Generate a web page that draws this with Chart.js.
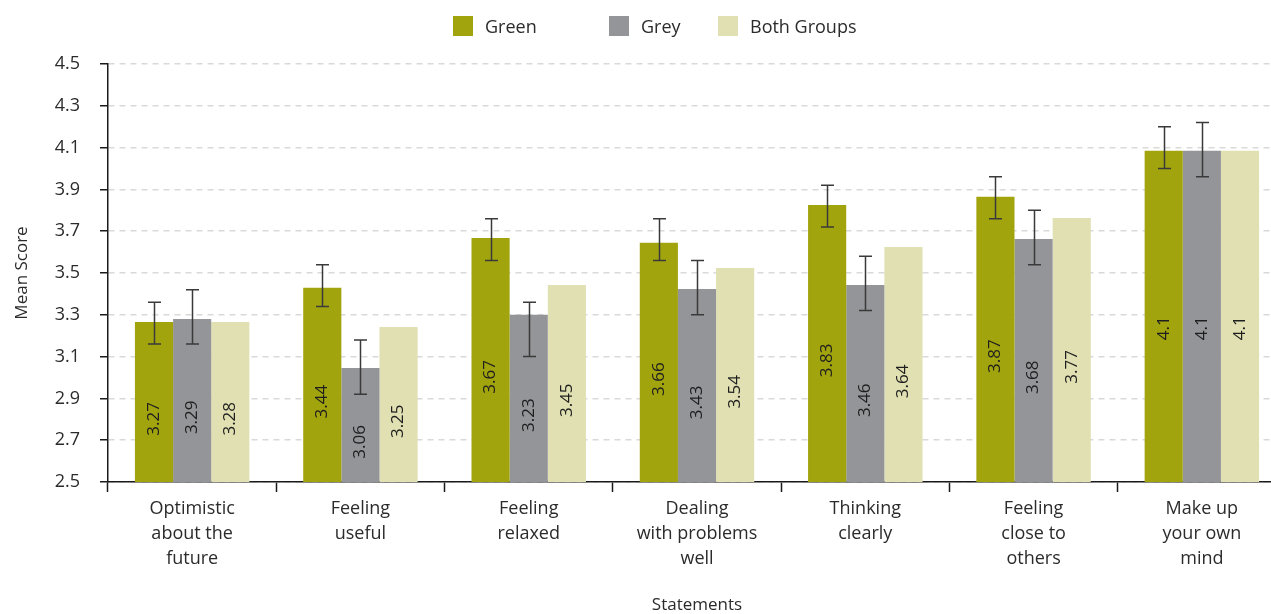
<!DOCTYPE html>
<html>
<head>
<meta charset="utf-8">
<script src="https://cdn.jsdelivr.net/npm/chart.js@4.4.1/dist/chart.umd.min.js"></script>
<style>
  html, body { margin: 0; padding: 0; background: #fff; overflow: hidden; }
  #wrap { width: 1271px; height: 614px; overflow: hidden; position: relative; }
  canvas { display: block; }
</style>
</head>
<body>
<div id="wrap"><canvas id="c" width="1290" height="614"></canvas></div>
<script>
// ---- Data ----
const categories = [
  ['Optimistic', 'about the', 'future'],
  ['Feeling', 'useful'],
  ['Feeling', 'relaxed'],
  ['Dealing', 'with problems', 'well'],
  ['Thinking', 'clearly'],
  ['Feeling', 'close to', 'others'],
  ['Make up', 'your own', 'mind']
];
const seriesNames = ['Green', 'Grey', 'Both Groups'];

const greenValues = [3.265, 3.43, 3.667, 3.645, 3.825, 3.865, 4.085];
const greyValues  = [3.28, 3.045, 3.30, 3.423, 3.443, 3.663, 4.085];
const bothValues  = [3.266, 3.242, 3.443, 3.524, 3.624, 3.763, 4.085];

const greenLabels = ['3.27', '3.44', '3.67', '3.66', '3.83', '3.87', '4.1'];
const greyLabels  = ['3.29', '3.06', '3.23', '3.43', '3.46', '3.68', '4.1'];
const bothLabels  = ['3.28', '3.25', '3.45', '3.54', '3.64', '3.77', '4.1'];

const greenErrLow  = [3.16, 3.34, 3.56, 3.56, 3.72, 3.76, 4.00];
const greenErrHigh = [3.36, 3.54, 3.76, 3.76, 3.92, 3.96, 4.20];
const greyErrLow   = [3.16, 2.92, 3.10, 3.30, 3.32, 3.54, 3.96];
const greyErrHigh  = [3.42, 3.18, 3.36, 3.56, 3.58, 3.80, 4.22];

const yTickValues = [2.5, 2.7, 2.9, 3.1, 3.3, 3.5, 3.7, 3.9, 4.1, 4.3, 4.5];

// ---- Styles ----
const FONT = '"Open Sans", "DejaVu Sans", sans-serif';
const TEXT = '#2b2b2b';

const valueLabelPlugin = {
  id: 'valueLabels',
  afterDatasetsDraw(chart) {
    const ctx = chart.ctx;
    const bottom = chart.scales.y.getPixelForValue(chart.scales.y.min);
    ctx.save();
    ctx.font = '17px ' + FONT;
    ctx.fillStyle = '#1e1e1e';
    ctx.textAlign = 'right';
    ctx.textBaseline = 'middle';
    chart.data.datasets.forEach((ds, di) => {
      const meta = chart.getDatasetMeta(di);
      meta.data.forEach((bar, i) => {
        const cy = (bar.y + bottom) / 2;
        ctx.save();
        ctx.translate(bar.x, cy);
        ctx.rotate(-Math.PI / 2);
        ctx.fillText(ds.valueLabels[i], 0, 0);
        ctx.restore();
      });
    });
    ctx.restore();
  }
};

const errorBarPlugin = {
  id: 'errorBars',
  afterDatasetsDraw(chart) {
    const ctx = chart.ctx;
    const y = chart.scales.y;
    ctx.save();
    ctx.strokeStyle = '#3a3a3a';
    ctx.lineWidth = 1.5;
    chart.data.datasets.forEach((ds, di) => {
      if (!ds.errLow) return;
      const meta = chart.getDatasetMeta(di);
      meta.data.forEach((bar, i) => {
        const x = Math.round(bar.x) + 0.5;
        const yl = y.getPixelForValue(ds.errLow[i]);
        const yh = y.getPixelForValue(ds.errHigh[i]);
        const cap = 6.5;
        ctx.beginPath();
        ctx.moveTo(x, yl); ctx.lineTo(x, yh);
        ctx.moveTo(x - cap, yl); ctx.lineTo(x + cap, yl);
        ctx.moveTo(x - cap, yh); ctx.lineTo(x + cap, yh);
        ctx.stroke();
      });
    });
    ctx.restore();
  }
};

const legendXs = [453, 609, 718];
const customLegend = {
  id: 'customLegend',
  afterDraw(chart) {
    const ctx = chart.ctx;
    ctx.save();
    ctx.font = '18px ' + FONT;
    ctx.textBaseline = 'middle';
    ctx.textAlign = 'left';
    chart.data.datasets.forEach((ds, i) => {
      const x = legendXs[i];
      ctx.fillStyle = ds.backgroundColor;
      ctx.fillRect(x, 16, 20, 20);
      ctx.fillStyle = TEXT;
      ctx.fillText(ds.label, x + 32, 28);
    });
    ctx.restore();
  }
};

new Chart(document.getElementById('c'), {
  type: 'bar',
  data: {
    labels: categories,
    datasets: [
      { label: seriesNames[0], data: greenValues, backgroundColor: '#A2A40E',
        valueLabels: greenLabels, errLow: greenErrLow, errHigh: greenErrHigh },
      { label: seriesNames[1], data: greyValues, backgroundColor: '#949599',
        valueLabels: greyLabels, errLow: greyErrLow, errHigh: greyErrHigh },
      { label: seriesNames[2], data: bothValues, backgroundColor: '#E0E0B2',
        valueLabels: bothLabels }
    ]
  },
  options: {
    responsive: false,
    animation: false,
    devicePixelRatio: 1,
    categoryPercentage: 0.68,
    barPercentage: 1.0,
    layout: { padding: { top: 64, right: 4, left: 0, bottom: 0 } },
    plugins: {
      legend: { display: false },
      tooltip: { enabled: false }
    },
    scales: {
      x: {
        offset: true,
        grid: {
          display: true,
          drawOnChartArea: false,
          drawTicks: true,
          tickLength: 10,
          tickColor: '#1a1a1a',
          tickWidth: 1.5
        },
        border: { display: true, color: '#1a1a1a', width: 1.5 },
        ticks: {
          color: TEXT,
          font: { family: FONT, size: 18, lineHeight: 1.4 },
          padding: 4,
          maxRotation: 0,
          autoSkip: false
        },
        title: {
          display: true,
          text: 'Statements',
          color: TEXT,
          font: { family: FONT, size: 17, lineHeight: 1 },
          padding: { top: 0, bottom: 0 }
        },
        afterFit(scale) { scale.height = 132; }
      },
      y: {
        min: 2.5,
        max: 4.5,
        afterBuildTicks(scale) { scale.ticks = yTickValues.map(v => ({ value: v })); },
        grid: {
          color: '#d9d9d9',
          lineWidth: 1.5,
          drawTicks: true,
          tickLength: 8,
          tickColor: '#1a1a1a',
          tickWidth: 1.5,
          tickBorderDash: []
        },
        border: { display: true, color: '#1a1a1a', width: 1.5, dash: [6, 5] },
        ticks: {
          color: TEXT,
          font: { family: FONT, size: 18 },
          padding: 20,
          callback: (v) => Number(v).toFixed(1)
        },
        title: {
          display: true,
          text: 'Mean Score',
          color: TEXT,
          font: { family: FONT, size: 17 },
          padding: { top: 12, bottom: 0 }
        },
        afterFit(scale) { scale.width = 108; }
      }
    }
  },
  plugins: [errorBarPlugin, valueLabelPlugin, customLegend]
});
</script>
</body>
</html>
